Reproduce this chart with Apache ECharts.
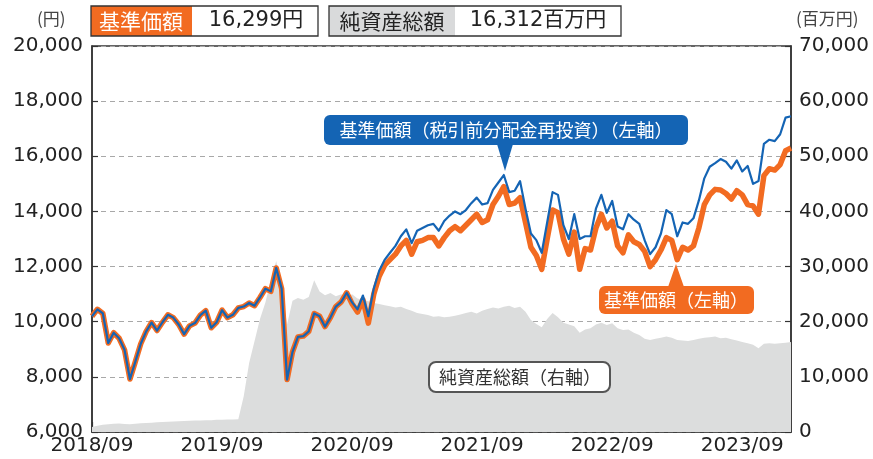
<!DOCTYPE html>
<html>
<head>
<meta charset="utf-8">
<script src="https://cdn.jsdelivr.net/npm/echarts@6/dist/echarts.min.js"></script>
<style>
  html, body { margin: 0; padding: 0; background: #fff; }
  #main { width: 873px; height: 459px; }
</style>
</head>
<body>
<div id="main"></div>
<script>
// half-month steps starting 2018/09
var blueNav = [
  10200, 10450, 10300, 9230, 9600, 9400, 8980, 7920, 8550, 9200,
  9650, 9970, 9680, 9980, 10250, 10150, 9900, 9550, 9850, 9950,
  10240, 10400, 9780, 9980, 10420, 10150, 10250, 10500, 10550, 10680,
  10580, 10880, 11200, 11100, 11950, 11200, 7900, 8900, 9450, 9480,
  9650, 10300, 10200, 9820, 10150, 10550, 10720, 11050, 10700, 10450,
  10950, 10200, 11200, 11850, 12240, 12500, 12750, 13100, 13350, 12850,
  13300, 13400, 13500, 13550, 13300, 13650, 13850, 14000, 13900, 14050,
  14300, 14500, 14250, 14300, 14780, 15050, 15320, 14700, 14750, 15100,
  14100, 13200, 12960, 12500, 13600, 14700, 14600, 13500, 13000, 13900,
  13000, 13100, 13100, 14100, 14600, 13950, 14380, 13450, 13350, 13900,
  13700, 13550, 12950, 12450, 12700, 13200, 14050, 13900, 13100, 13600,
  13550, 13750, 14400, 15200, 15620, 15750, 15900, 15800, 15550, 15850,
  15450, 15650, 15000, 15100, 16450, 16600, 16550, 16800, 17400, 17450
];
var nav = [
  10200, 10450, 10300, 9230, 9600, 9400, 8980, 7920, 8550, 9200,
  9650, 9970, 9680, 9980, 10250, 10150, 9900, 9550, 9850, 9950,
  10240, 10400, 9780, 9980, 10420, 10150, 10250, 10500, 10550, 10680,
  10580, 10880, 11200, 11100, 11950, 11200, 7900, 8900, 9450, 9480,
  9650, 10300, 10200, 9820, 10150, 10550, 10720, 11050, 10650, 10350,
  10800, 9950, 11000, 11650, 12050, 12250, 12450, 12750, 12950, 12450,
  12900, 12950, 13050, 13050, 12750, 13050, 13300, 13450, 13300, 13500,
  13700, 13900, 13600, 13700, 14250, 14550, 14900, 14250, 14300, 14500,
  13600, 12700, 12400, 11900, 13000, 14050, 13950, 13000, 12450, 13250,
  11900, 12650, 12600, 13400, 13900, 13400, 13650, 12750, 12500, 13150,
  12900, 12800, 12550, 12000, 12250, 12600, 13050, 12950, 12250, 12700,
  12600, 12750, 13400, 14250, 14600, 14800, 14780, 14650, 14450, 14750,
  14600, 14250, 14200, 13900, 15300, 15550, 15500, 15700, 16200, 16299
];
var netAssets = [
  900, 1150, 1300, 1400, 1500, 1550, 1450, 1400, 1500, 1600,
  1650, 1700, 1750, 1800, 1850, 1900, 1950, 2000, 2050, 2100,
  2100, 2150, 2150, 2200, 2200, 2250, 2250, 2300, 6500, 12500,
  16500, 20500, 23500, 27500, 31000, 26000, 19500, 23800, 24300, 24000,
  24500, 27500, 25500, 24800, 25200, 24600, 25000, 24500, 25000, 24200,
  24000, 23700, 23400, 23200, 23000, 22800, 22600, 22700, 22300, 22000,
  21600, 21400, 21200, 20900, 21000, 20800, 20900, 21100, 21300, 21600,
  21800, 21500, 22000, 22300, 22600, 22400, 22700, 22900, 22500, 22700,
  21800, 20300, 19600, 19000, 20500, 21600, 20800, 19800, 19500, 19200,
  18000, 18600, 18800, 19500, 19800, 19400, 19700, 18800, 18500, 18600,
  18000, 17600, 16900, 16700, 16900, 17100, 17300, 17100, 16700, 16600,
  16500, 16700, 16900, 17100, 17200, 17300, 17000, 17100, 16800, 16600,
  16300, 16100, 15800, 15200, 16000, 16100, 16000, 16100, 16200, 16312
];
var startYear = 2018;
var leftTicks = { min: 6000, max: 20000, interval: 2000 };
var rightTicks = { min: 0, max: 70000, interval: 10000 };

function pairs(arr) {
  return arr.map(function (v, i) { return [i * 0.5, v]; });
}

var FONT = '"DejaVu Sans", "Noto Sans CJK JP"';
var JP = '"Noto Sans CJK JP"';
var chart = echarts.init(document.getElementById('main'));

function f(size, fam) { return size + 'px ' + (fam || FONT); }

var option = {
  animation: false,
  grid: {
    left: 92, right: 82, top: 46, bottom: 27,
    show: true, borderColor: '#333', borderWidth: 1.5, backgroundColor: 'transparent'
  },
  xAxis: {
    type: 'value',
    min: 0, max: 64.5, interval: 12,
    axisLine: { show: true, lineStyle: { color: '#333', width: 1.5 } },
    axisTick: { show: true, inside: true, length: 10, lineStyle: { color: '#333', width: 1.2 } },
    splitLine: { show: false },
    axisLabel: {
      margin: 4, color: '#222', fontSize: 20, fontFamily: 'DejaVu Sans', showMaxLabel: false,
      formatter: function (v) {
        if (v % 12 !== 0) return '';
        return (startYear + v / 12) + '/09';
      }
    }
  },
  yAxis: [
    {
      type: 'value', min: leftTicks.min, max: leftTicks.max, interval: leftTicks.interval,
      axisLine: { show: true, lineStyle: { color: '#333', width: 1.5 } },
      axisTick: { show: true, inside: true, length: 6, lineStyle: { color: '#333', width: 1.2 } },
      splitLine: { show: true, lineStyle: { color: '#a8a8a8', type: [5, 4], width: 1 } },
      axisLabel: {
        margin: 9, color: '#222', fontSize: 20, fontFamily: 'DejaVu Sans',
        formatter: function (v) { return v.toLocaleString('en-US'); }
      }
    },
    {
      type: 'value', min: rightTicks.min, max: rightTicks.max, interval: rightTicks.interval,
      position: 'right',
      axisLine: { show: true, lineStyle: { color: '#333', width: 1.5 } },
      axisTick: { show: true, inside: true, length: 6, lineStyle: { color: '#333', width: 1.2 } },
      splitLine: { show: false },
      axisLabel: {
        margin: 8, color: '#222', fontSize: 20, fontFamily: 'DejaVu Sans',
        formatter: function (v) { return v.toLocaleString('en-US'); }
      }
    }
  ],
  series: [
    {
      name: '純資産総額', type: 'line', yAxisIndex: 1, data: pairs(netAssets),
      showSymbol: false, lineStyle: { width: 0 }, itemStyle: { color: '#dcdddd' },
      areaStyle: { color: '#dcdddd', opacity: 1 }, z: 1
    },
    {
      name: '基準価額', type: 'line', data: pairs(nav),
      showSymbol: false, lineStyle: { width: 5.5, color: '#f26b21', join: 'round' },
      itemStyle: { color: '#f26b21' }, z: 3
    },
    {
      name: '基準価額(税引前分配金再投資)', type: 'line', data: pairs(blueNav),
      showSymbol: false, lineStyle: { width: 2.2, color: '#1464b4', join: 'round' },
      itemStyle: { color: '#1464b4' }, z: 4
    }
  ],
  graphic: [
    { type: 'text', left: 37, top: 10, style: { text: '(円)', fill: '#444', font: f(17, JP) } },
    { type: 'rect', shape: { x: 91, y: 6, width: 101, height: 30 }, style: { fill: '#f26b21' } },
    { type: 'rect', shape: { x: 91, y: 6, width: 227, height: 30 }, style: { fill: 'none', stroke: '#333', lineWidth: 1.3 } },
    { type: 'text', x: 141, y: 21, style: { text: '基準価額', fill: '#fff', font: f(21, JP), align: 'center', verticalAlign: 'middle' } },
    { type: 'text', x: 256, y: 21, style: { text: '16,299円', fill: '#222', font: f(21), align: 'center', verticalAlign: 'middle' } },
    { type: 'rect', shape: { x: 329, y: 6, width: 126, height: 30 }, style: { fill: '#d9dadb' } },
    { type: 'rect', shape: { x: 329, y: 6, width: 292, height: 30 }, style: { fill: 'none', stroke: '#333', lineWidth: 1.3 } },
    { type: 'text', x: 392, y: 21, style: { text: '純資産総額', fill: '#222', font: f(21, JP), align: 'center', verticalAlign: 'middle' } },
    { type: 'text', x: 538, y: 21, style: { text: '16,312百万円', fill: '#222', font: f(21), align: 'center', verticalAlign: 'middle' } },
    { type: 'text', left: 796, top: 10, style: { text: '(百万円)', fill: '#444', font: f(17, JP) } },

    { type: 'rect', shape: { x: 324, y: 115, width: 364, height: 30, r: 6 }, style: { fill: '#1464b4' }, z: 10 },
    { type: 'polygon', shape: { points: [[497, 144], [513, 144], [505, 171]] }, style: { fill: '#1464b4' }, z: 10 },
    { type: 'text', x: 506, y: 130, z: 11, style: { text: '基準価額（税引前分配金再投資）（左軸）', fill: '#fff', font: f(18, JP), align: 'center', verticalAlign: 'middle' } },

    { type: 'rect', shape: { x: 599, y: 286, width: 155, height: 28, r: 6 }, style: { fill: '#f26b21' }, z: 10 },
    { type: 'polygon', shape: { points: [[668, 287], [684, 287], [676, 264]] }, style: { fill: '#f26b21' }, z: 10 },
    { type: 'text', x: 676, y: 300, z: 11, style: { text: '基準価額（左軸）', fill: '#fff', font: f(18, JP), align: 'center', verticalAlign: 'middle' } },

    { type: 'rect', shape: { x: 429, y: 362, width: 181, height: 30, r: 7 }, style: { fill: '#fff', stroke: '#555', lineWidth: 2 }, z: 10 },
    { type: 'text', x: 520, y: 377, z: 11, style: { text: '純資産総額（右軸）', fill: '#333', font: f(18, JP), align: 'center', verticalAlign: 'middle' } }
  ]
};

chart.setOption(option);
</script>
</body>
</html>
